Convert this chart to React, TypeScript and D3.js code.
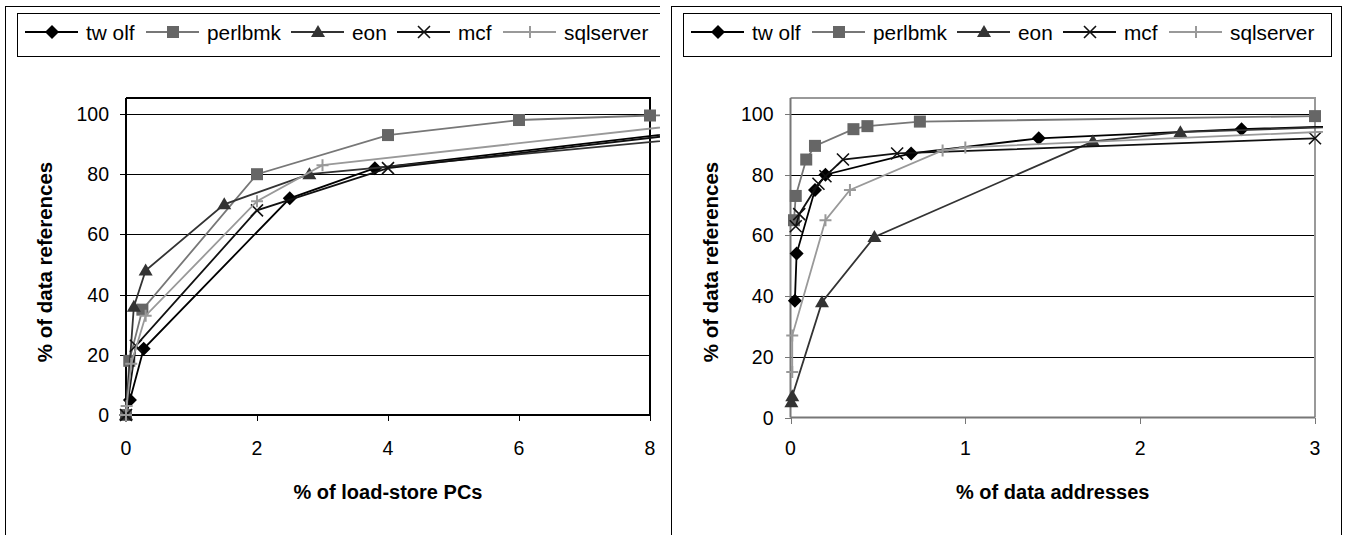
import React from 'react';
import * as d3 from 'd3';

type Pt = [number, number];

const seriesNames = ['tw olf', 'perlbmk', 'eon', 'mcf', 'sqlserver'];

// left chart: % of load-store PCs
const pcTwolf: Pt[] = [[0, 0], [0.06, 5], [0.27, 22], [2.5, 72], [3.8, 82], [10, 97.8]];
const pcPerlbmk: Pt[] = [[0, 0], [0.05, 18], [0.25, 35], [2, 80], [4, 93], [6, 98], [8, 99.5], [10, 100]];
const pcEon: Pt[] = [[0, 0], [0.12, 36], [0.3, 48], [1.5, 70], [2.8, 80], [10, 94.8]];
const pcMcf: Pt[] = [[0, 0], [0.15, 23], [2, 68], [4, 82], [10, 97.1]];
const pcSql: Pt[] = [[0, 0], [0.01, 3], [0.08, 17], [0.3, 33], [2, 71], [3, 83], [10, 100]];

// right chart: % of data addresses
const addrTwolf: Pt[] = [[0.025, 38.5], [0.035, 54], [0.14, 75], [0.2, 80], [0.69, 87], [1.42, 92], [2.58, 95], [3.5, 96.6]];
const addrPerlbmk: Pt[] = [[0.02, 65], [0.03, 73], [0.09, 85], [0.14, 89.5], [0.36, 95], [0.44, 96], [0.74, 97.5], [3, 99.3]];
const addrEon: Pt[] = [[0.005, 5], [0.01, 7], [0.18, 38], [0.48, 59.5], [1.73, 91], [2.23, 94], [3.5, 96.5]];
const addrMcf: Pt[] = [[0.03, 63], [0.05, 67], [0.16, 77], [0.2, 79.5], [0.3, 85], [0.61, 87], [3, 92]];
const addrSql: Pt[] = [[0.01, 15], [0.01, 27], [0.2, 65], [0.34, 75], [0.87, 88], [1, 89], [3.5, 95.3]];

const yTicks = [0, 20, 40, 60, 80, 100];
const pcXTicks = [0, 2, 4, 6, 8];
const addrXTicks = [0, 1, 2, 3];

const looks = [
  { line: '#000', fill: '#000', shape: 'diamond' },
  { line: '#777', fill: '#666', shape: 'square' },
  { line: '#333', fill: '#333', shape: 'triangle' },
  { line: '#111', fill: '#111', shape: 'x' },
  { line: '#999', fill: '#999', shape: 'plus' },
];

const FONT = "'Liberation Sans', Arial, Helvetica, sans-serif";

function Marker({ shape, color, x, y }: { shape: string; color: string; x: number; y: number }) {
  if (shape === 'diamond')
    return <path d={`M${x},${y - 7}L${x + 7},${y}L${x},${y + 7}L${x - 7},${y}Z`} fill={color} />;
  if (shape === 'square') return <rect x={x - 6} y={y - 6} width={12} height={12} fill={color} />;
  if (shape === 'triangle')
    return <path d={`M${x},${y - 7}L${x + 7},${y + 5}L${x - 7},${y + 5}Z`} fill={color} />;
  if (shape === 'x')
    return (
      <path d={`M${x - 6},${y - 6}L${x + 6},${y + 6}M${x - 6},${y + 6}L${x + 6},${y - 6}`}
        stroke={color} strokeWidth={1.6} />
    );
  return (
    <path d={`M${x - 6},${y}L${x + 6},${y}M${x},${y - 6}L${x},${y + 6}`} stroke={color} strokeWidth={2} />
  );
}

type PanelProps = {
  ox: number;
  id: string;
  data: Pt[][];
  xTicks: number[];
  plotL: number;
  plotR: number;
  plotB: number;
  lineClipR: number;
  frame: string;
  axis: string;
  xTitle: string;
};

const legendStarts = [25, 146, 291, 397, 503];
const crisp = (v: number) => Math.round(v) + 0.5;

function Panel(p: PanelProps) {
  const plotT = 98;
  const x = d3.scaleLinear().domain([0, p.xTicks[p.xTicks.length - 1]]).range([p.plotL, p.plotR]);
  const y = d3.scaleLinear().domain([0, 100]).range([p.plotB, 114]);
  const line = d3.line<Pt>().x(d => x(d[0])).y(d => y(d[1]));
  const lineClipL = p.ox === 0 ? 0 : p.ox + 5;

  return (
    <g>
      <defs>
        <clipPath id={p.id + '-lines'}>
          <rect x={lineClipL} y={0} width={p.lineClipR - lineClipL} height={535} />
        </clipPath>
      </defs>
      {/* outer chart frame and legend */}
      <rect x={p.ox + 5.5} y={6.5} width={670} height={600} fill="#fff" stroke="#000" />
      <rect x={p.ox + 17.5} y={13.5} width={648} height={43} fill="#fff" stroke="#000" />
      {seriesNames.map((name, i) => {
        const lx = p.ox + legendStarts[i];
        return (
          <g key={name}>
            <line x1={lx} x2={lx + 53} y1={32} y2={32} stroke={looks[i].line} strokeWidth={1.8} />
            <Marker shape={looks[i].shape} color={looks[i].fill} x={lx + 27} y={32} />
            <text x={lx + 61} y={39.5} fontSize={20.8} fill="#000">{name}</text>
          </g>
        );
      })}

      {/* grid */}
      {yTicks.slice(1).map(t => (
        <line key={t} x1={p.plotL} x2={p.plotR} y1={crisp(y(t))} y2={crisp(y(t))}
          stroke="#000" strokeWidth={1} shapeRendering="crispEdges" />
      ))}
      <path d={`M${p.plotL},${plotT}H${p.plotR}V${p.plotB}`} fill="none" stroke={p.frame} strokeWidth={2} />
      <line x1={p.plotL} x2={p.plotR} y1={p.plotB} y2={p.plotB} stroke={p.axis} strokeWidth={2} />
      <line x1={p.plotL} x2={p.plotL} y1={plotT} y2={p.plotB} stroke={p.axis} strokeWidth={2} />

      {yTicks.map(t => (
        <g key={t}>
          <line x1={p.plotL - 6} x2={p.plotL} y1={crisp(y(t))} y2={crisp(y(t))} stroke={p.axis}
            strokeWidth={1} shapeRendering="crispEdges" />
          <text x={p.plotL - 17} y={y(t) + 7} textAnchor="end" fontSize={19.5}>{t}</text>
        </g>
      ))}
      {p.xTicks.map(t => (
        <g key={t}>
          <line x1={crisp(x(t))} x2={crisp(x(t))} y1={p.plotB} y2={p.plotB + 6} stroke={p.axis}
            strokeWidth={1} shapeRendering="crispEdges" />
          <text x={x(t)} y={455} textAnchor="middle" fontSize={19.5}>{t}</text>
        </g>
      ))}

      {/* series */}
      <g clipPath={`url(#${p.id}-lines)`}>
        {p.data.map((pts, i) => (
          <g key={i}>
            <path d={line(pts) || ''} fill="none" stroke={looks[i].line} strokeWidth={1.8} />
            {pts.map((d, j) => (
              <Marker key={j} shape={looks[i].shape} color={looks[i].fill} x={x(d[0])} y={y(d[1])} />
            ))}
          </g>
        ))}
      </g>

      <text x={(p.plotL + p.plotR) / 2} y={499} textAnchor="middle" fontSize={20} fontWeight="bold">
        {p.xTitle}
      </text>
      <text transform={`translate(${p.ox + 45},262) rotate(-90)`} textAnchor="middle" dy="0.35em"
        fontSize={20.5} fontWeight="bold">
        % of data references
      </text>
    </g>
  );
}

export default function App() {
  return (
    <svg width={1347} height={535} fontFamily={FONT}
      style={{ position: 'absolute', left: 0, top: 0, background: '#fff' }}>
      <defs>
        <clipPath id="leftPanel">
          <rect x={0} y={0} width={660} height={535} />
        </clipPath>
      </defs>
      <g clipPath="url(#leftPanel)">
        <Panel ox={0} id="pc" data={[pcTwolf, pcPerlbmk, pcEon, pcMcf, pcSql]} xTicks={pcXTicks}
          plotL={126} plotR={650} plotB={415} lineClipR={660} frame="#000" axis="#000"
          xTitle="% of load-store PCs" />
      </g>
      <Panel ox={666} id="addr" data={[addrTwolf, addrPerlbmk, addrEon, addrMcf, addrSql]} xTicks={addrXTicks}
        plotL={790.5} plotR={1315} plotB={417.5} lineClipR={1323} frame="#999" axis="#777"
        xTitle="% of data addresses" />
    </svg>
  );
}
